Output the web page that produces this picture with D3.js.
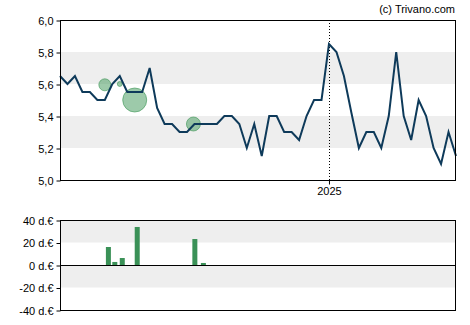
<!DOCTYPE html>
<html>
<head>
<meta charset="utf-8">
<script src="https://cdn.jsdelivr.net/npm/d3@7"></script>
<style>
  body { margin: 0; background: #fff; }
  text { font-family: "Liberation Sans", Arial, sans-serif; }
</style>
</head>
<body>
<script>
var width = 470;
var height = 325;
var lineColor = "#0e3a5a";
var bandColor = "#eeeeee";
var barColor = "#3a9157";

// weekly closing prices
var startDate = new Date(2024, 3, 24);
var prices = [5.65, 5.6, 5.65, 5.55, 5.55, 5.5, 5.5, 5.6, 5.65, 5.55,
  5.55, 5.55, 5.7, 5.45, 5.35, 5.35, 5.3, 5.3, 5.35, 5.35,
  5.35, 5.35, 5.4, 5.4, 5.35, 5.2, 5.35, 5.15, 5.4, 5.4,
  5.3, 5.3, 5.25, 5.4, 5.5, 5.5, 5.85, 5.8, 5.65, 5.42,
  5.2, 5.3, 5.3, 5.2, 5.4, 5.8, 5.4, 5.25, 5.5, 5.4,
  5.2, 5.1, 5.3, 5.15];
var priceDates = prices.map(function(p, i) { return d3.timeDay.offset(startDate, i * 7); });

// insider trades (bubbles on the price chart)
var bubbleDates = [new Date(2024, 5, 5), new Date(2024, 5, 19), new Date(2024, 6, 3), new Date(2024, 7, 27)];
var bubblePrices = [5.595, 5.6, 5.5, 5.35];
var bubbleSizes = [36, 6, 144, 49];

// trade volume bars
var barDates = [new Date(2024, 5, 6), new Date(2024, 5, 12), new Date(2024, 5, 19), new Date(2024, 6, 3), new Date(2024, 7, 26), new Date(2024, 8, 3)];
var barValues = [16, 2.7, 6.2, 33.8, 23.1, 1.8];

var priceTicks = [5.0, 5.2, 5.4, 5.6, 5.8, 6.0];
var priceBands = [[5.2, 5.4], [5.6, 5.8]];
var volTicks = [-40, -20, 0, 20, 40];
var volBands = [[-20, 0], [20, 40]];
var yearTicks = [new Date(2025, 0, 1)];

var left = 60, right = 455;
var top1 = 20, bottom1 = 180;
var top2 = 220, bottom2 = 310;

var svg = d3.select("body").append("svg")
  .attr("width", width)
  .attr("height", height);

var x = d3.scaleTime()
  .domain([priceDates[0], priceDates[priceDates.length - 1]])
  .range([left, right + 1]);
var y = d3.scaleLinear().domain([5.0, 6.0]).range([bottom1, top1]);
var y2 = d3.scaleLinear().domain([-40, 40]).range([bottom2, top2]);
var r = d3.scaleSqrt().domain([0, 144]).range([0, 12]);

// bands
svg.selectAll("rect.band1").data(priceBands).enter().append("rect")
  .attr("x", left).attr("width", right - left)
  .attr("y", function(d) { return y(d[1]); })
  .attr("height", function(d) { return y(d[0]) - y(d[1]); })
  .attr("fill", bandColor);
svg.selectAll("rect.band2").data(volBands).enter().append("rect")
  .attr("x", left).attr("width", right - left)
  .attr("y", function(d) { return y2(d[1]); })
  .attr("height", function(d) { return y2(d[0]) - y2(d[1]); })
  .attr("fill", bandColor);

// year marker
svg.selectAll("line.year").data(yearTicks).enter().append("line")
  .attr("x1", function(d) { return Math.round(x(d)) + 0.5; })
  .attr("x2", function(d) { return Math.round(x(d)) + 0.5; })
  .attr("y1", top1).attr("y2", bottom1)
  .attr("stroke", "#000").attr("stroke-width", 1)
  .attr("stroke-dasharray", "1,2");

// bubbles
svg.selectAll("circle.trade").data(bubbleDates).enter().append("circle")
  .attr("cx", function(d) { return x(d); })
  .attr("cy", function(d, i) { return y(bubblePrices[i]); })
  .attr("r", function(d, i) { return r(bubbleSizes[i]); })
  .attr("fill", "rgba(60,150,85,0.5)")
  .attr("stroke", "rgba(60,150,85,0.6)");

// price line
var line = d3.line()
  .x(function(d, i) { return x(priceDates[i]); })
  .y(function(d) { return y(d); });
svg.append("path")
  .datum(prices)
  .attr("d", line)
  .attr("fill", "none")
  .attr("stroke", lineColor)
  .attr("stroke-width", 2)
  .attr("stroke-linejoin", "miter");

// volume bars
svg.selectAll("rect.bar").data(barValues).enter().append("rect")
  .attr("x", function(d, i) { return x(barDates[i]); })
  .attr("width", 5)
  .attr("y", function(d) { return y2(d); })
  .attr("height", function(d) { return y2(0) - y2(d); })
  .attr("fill", barColor);

// frames
svg.append("rect").attr("x", left + 0.5).attr("y", top1 + 0.5)
  .attr("width", right - left).attr("height", bottom1 - top1)
  .attr("fill", "none").attr("stroke", "#000");
svg.append("rect").attr("x", left + 0.5).attr("y", top2 + 0.5)
  .attr("width", right - left).attr("height", bottom2 - top2)
  .attr("fill", "none").attr("stroke", "#000");
svg.append("line").attr("x1", left).attr("x2", right + 1)
  .attr("y1", y2(0) + 0.5).attr("y2", y2(0) + 0.5)
  .attr("stroke", "#000");

// axes
var yAxis = d3.axisLeft(y).tickValues(priceTicks).tickSize(4).tickPadding(3)
  .tickFormat(function(d) { return d3.format(".1f")(d).replace(".", ","); });
svg.append("g").attr("transform", "translate(" + (left + 0.5) + ",0.5)").call(yAxis)
  .call(function(g) { g.select(".domain").remove(); });

var y2Axis = d3.axisLeft(y2).tickValues(volTicks).tickSize(4).tickPadding(3)
  .tickFormat(function(d) { return d + " d.€"; });
svg.append("g").attr("transform", "translate(" + (left + 0.5) + ",0.5)").call(y2Axis)
  .call(function(g) { g.select(".domain").remove(); });

var xAxis = d3.axisBottom(x).tickValues(yearTicks).tickSize(4).tickPadding(3)
  .tickFormat(d3.timeFormat("%Y"));
svg.append("g").attr("transform", "translate(0," + (bottom1 + 0.5) + ")").call(xAxis)
  .call(function(g) { g.select(".domain").remove(); });

svg.selectAll(".tick text").attr("font-size", 11).attr("fill", "#000")
  .attr("font-family", "'Liberation Sans', Arial, sans-serif");
svg.selectAll(".tick line").attr("stroke", "#000");

svg.append("text")
  .attr("x", right).attr("y", 13)
  .attr("text-anchor", "end")
  .attr("font-size", 11)
  .attr("fill", "#000")
  .text("(c) Trivano.com");
</script>
</body>
</html>
